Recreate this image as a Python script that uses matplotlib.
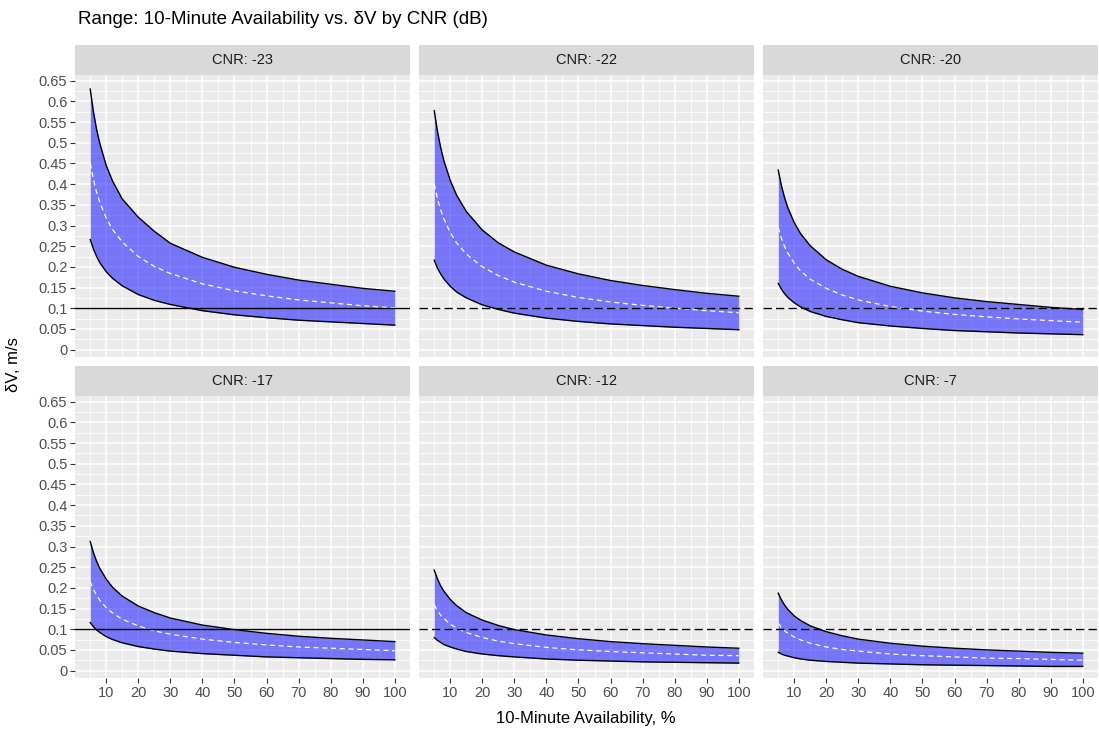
import numpy as np
import matplotlib
matplotlib.use("Agg")
import matplotlib.pyplot as plt
from matplotlib.ticker import MultipleLocator

plt.rcParams['font.family'] = ['Liberation Sans', 'DejaVu Sans']

# availability (%) sample points
avail = [5, 6, 7, 8, 10, 12, 15, 20, 25, 30, 40, 50, 60, 70, 80, 90, 100]

cnr_labels = ["CNR: -23", "CNR: -22", "CNR: -20", "CNR: -17", "CNR: -12", "CNR: -7"]

# upper / median / lower dV (m/s) per CNR panel
upper_23 = [0.630, 0.575, 0.532, 0.498, 0.445, 0.407, 0.364, 0.320, 0.286, 0.257, 0.223, 0.199, 0.182, 0.168, 0.158, 0.148, 0.141]
median_23 = [0.450, 0.411, 0.380, 0.356, 0.318, 0.290, 0.260, 0.225, 0.201, 0.184, 0.159, 0.142, 0.130, 0.120, 0.113, 0.106, 0.101]
lower_23 = [0.266, 0.243, 0.225, 0.210, 0.188, 0.172, 0.154, 0.133, 0.119, 0.109, 0.094, 0.084, 0.077, 0.071, 0.067, 0.063, 0.059]

upper_22 = [0.578, 0.528, 0.489, 0.457, 0.409, 0.373, 0.334, 0.289, 0.258, 0.236, 0.204, 0.183, 0.167, 0.155, 0.145, 0.136, 0.129]
median_22 = [0.400, 0.365, 0.338, 0.316, 0.283, 0.258, 0.231, 0.200, 0.179, 0.163, 0.141, 0.126, 0.115, 0.107, 0.100, 0.094, 0.089]
lower_22 = [0.216, 0.197, 0.183, 0.171, 0.153, 0.139, 0.125, 0.108, 0.097, 0.088, 0.076, 0.068, 0.062, 0.058, 0.054, 0.051, 0.048]

upper_20 = [0.434, 0.396, 0.367, 0.343, 0.307, 0.280, 0.251, 0.217, 0.194, 0.177, 0.153, 0.137, 0.125, 0.116, 0.109, 0.102, 0.097]
median_20 = [0.295, 0.269, 0.249, 0.233, 0.209, 0.190, 0.170, 0.148, 0.132, 0.120, 0.104, 0.093, 0.085, 0.079, 0.074, 0.070, 0.066]
lower_20 = [0.160, 0.146, 0.135, 0.126, 0.113, 0.103, 0.092, 0.080, 0.072, 0.065, 0.057, 0.051, 0.046, 0.043, 0.040, 0.038, 0.036]

upper_17 = [0.312, 0.285, 0.264, 0.247, 0.221, 0.201, 0.180, 0.156, 0.140, 0.127, 0.110, 0.099, 0.090, 0.083, 0.078, 0.074, 0.070]
median_17 = [0.215, 0.196, 0.182, 0.170, 0.152, 0.139, 0.124, 0.108, 0.096, 0.088, 0.076, 0.068, 0.062, 0.057, 0.054, 0.051, 0.048]
lower_17 = [0.116, 0.106, 0.098, 0.092, 0.082, 0.075, 0.067, 0.058, 0.052, 0.047, 0.041, 0.037, 0.033, 0.031, 0.029, 0.027, 0.026]

upper_12 = [0.243, 0.222, 0.205, 0.192, 0.172, 0.157, 0.140, 0.122, 0.109, 0.099, 0.086, 0.077, 0.070, 0.065, 0.061, 0.057, 0.054]
median_12 = [0.159, 0.145, 0.134, 0.126, 0.112, 0.103, 0.092, 0.080, 0.071, 0.065, 0.056, 0.050, 0.046, 0.043, 0.040, 0.037, 0.036]
lower_12 = [0.080, 0.073, 0.068, 0.063, 0.057, 0.052, 0.046, 0.040, 0.036, 0.033, 0.028, 0.025, 0.023, 0.021, 0.020, 0.019, 0.018]

upper_7 = [0.187, 0.171, 0.158, 0.148, 0.132, 0.121, 0.108, 0.094, 0.084, 0.076, 0.066, 0.059, 0.054, 0.050, 0.047, 0.044, 0.042]
median_7 = [0.114, 0.104, 0.096, 0.090, 0.081, 0.074, 0.066, 0.057, 0.051, 0.047, 0.040, 0.036, 0.033, 0.030, 0.029, 0.027, 0.025]
lower_7 = [0.044, 0.040, 0.037, 0.035, 0.031, 0.028, 0.025, 0.022, 0.020, 0.018, 0.016, 0.014, 0.013, 0.012, 0.011, 0.010, 0.010]

uppers = [upper_23, upper_22, upper_20, upper_17, upper_12, upper_7]
medians = [median_23, median_22, median_20, median_17, median_12, median_7]
lowers = [lower_23, lower_22, lower_20, lower_17, lower_12, lower_7]

threshold = 0.1
x_ticks = [10, 20, 30, 40, 50, 60, 70, 80, 90, 100]
y_ticks = [0, 0.05, 0.1, 0.15, 0.2, 0.25, 0.3, 0.35, 0.4, 0.45, 0.5, 0.55, 0.6, 0.65]
y_ticklabels = ["0", "0.05", "0.1", "0.15", "0.2", "0.25", "0.3", "0.35", "0.4", "0.45", "0.5", "0.55", "0.6", "0.65"]

W, H = 1099, 731
fig = plt.figure(figsize=(W / 100, H / 100), dpi=100)

col_left = [75, 419, 763]
panel_w = 335
row_top = [75, 396]
panel_h = 282
strip_h = 30

for i in range(6):
    r, c = divmod(i, 3)
    x0 = col_left[c]
    y0 = row_top[r]
    ax = fig.add_axes([x0 / W, 1 - (y0 + panel_h) / H, panel_w / W, panel_h / H])
    ax.set_facecolor("#EBEBEB")
    for s in ax.spines.values():
        s.set_visible(False)

    ax.set_xlim(0.25, 104.75)
    ax.set_ylim(-0.018, 0.664)
    ax.xaxis.set_major_locator(MultipleLocator(10))
    ax.xaxis.set_minor_locator(MultipleLocator(5))
    ax.set_xticks(x_ticks)
    ax.set_yticks(y_ticks)
    ax.yaxis.set_minor_locator(MultipleLocator(0.025))
    ax.grid(which="major", color="white", lw=1.1)
    ax.grid(which="minor", color="white", lw=0.55)
    ax.set_axisbelow(True)

    ax.tick_params(which="minor", length=0)
    ax.tick_params(which="major", length=3.5, width=0.8, color="#333333",
                   labelsize=10.5, labelcolor="#4D4D4D", pad=2)
    if c == 0:
        ax.set_yticklabels(y_ticklabels)
    else:
        ax.tick_params(axis="y", length=0, labelleft=False)
    if r == 1:
        ax.set_xticklabels([str(t) for t in x_ticks])
    else:
        ax.tick_params(axis="x", length=0, labelbottom=False)

    ax.fill_between(avail, lowers[i], uppers[i], color="blue", alpha=0.5, lw=0)
    ax.plot(avail, uppers[i], color="black", lw=1.0)
    ax.plot(avail, lowers[i], color="black", lw=1.0)
    ax.plot(avail, medians[i], color="white", lw=0.9, ls=(0, (4, 3)))
    if c == 0:
        ax.axhline(threshold, color="black", lw=1.0)
    else:
        ax.axhline(threshold, color="black", lw=1.0, ls=(0, (6, 3)))

    # facet strip
    sax = fig.add_axes([x0 / W, 1 - y0 / H, panel_w / W, strip_h / H])
    sax.set_facecolor("#D9D9D9")
    sax.set_xticks([])
    sax.set_yticks([])
    for s in sax.spines.values():
        s.set_visible(False)
    sax.text(0.5, 0.5, cnr_labels[i], ha="center", va="center",
             fontsize=10.5, color="#1A1A1A", transform=sax.transAxes)

fig.text(78 / W, 1 - 20 / H, "Range: 10-Minute Availability vs. δV by CNR (dB)",
         ha="left", va="center", fontsize=13.5, color="black")
fig.text(586 / W, 1 - 718 / H, "10-Minute Availability, %", ha="center", va="center",
         fontsize=12, color="black")
fig.text(14 / W, 1 - 365 / H, "δV, m/s", ha="center", va="center", rotation=90,
         fontsize=12, color="black")

fig.savefig("out.png", dpi=100)
